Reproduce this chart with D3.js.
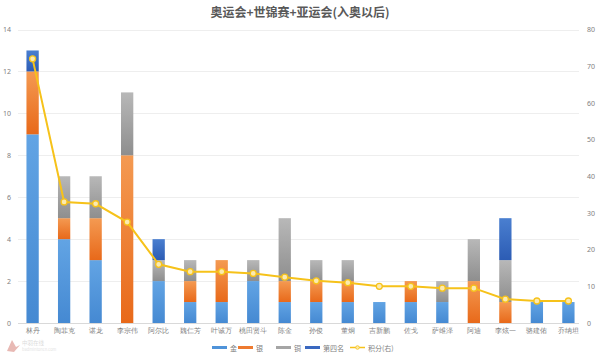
<!DOCTYPE html>
<html><head><meta charset="utf-8">
<script src="https://cdn.jsdelivr.net/npm/d3@7"></script>
<style>
body{margin:0;background:#fff;}
svg{display:block;font-family:"Noto Sans CJK SC","Noto Sans",sans-serif;}
</style></head>
<body>
<svg id="chart" width="600" height="357"></svg>
<script>
const categories = ["林丹","陶菲克","谌龙","李宗伟","阿尔比","魏仁芳","叶诚万","桃田贤斗","陈金","孙俊","董炯","吉新鹏","佐戈","萨维泽","阿迪","李炫一","骆建佑","乔纳坦"];
const gold   = [9,4,3,0,2,1,1,2,1,1,1,1,1,1,0,0,1,1];
const silver = [3,1,2,8,0,1,2,0,1,1,1,0,1,0,2,1,0,0];
const bronze = [0,2,2,3,1,1,0,1,3,1,1,0,0,1,2,2,0,0];
const fourth = [1,0,0,0,1,0,0,0,0,0,0,0,0,0,0,2,0,0];
const points = [72,33,32.5,27.5,16,14,14,13.5,12.5,11.5,11,10,10,9.5,9.5,6.5,6,6];
const seriesNames = ["金","银","铜","第四名"];
const lineName = "积分(右)";
const leftTicks = [0,2,4,6,8,10,12,14];
const rightTicks = [0,10,20,30,40,50,60,70,80];
const title = "奥运会+世锦赛+亚运会(入奥以后)";

const svg = d3.select("#chart");
const plot = {left:17, right:584, top:29.5, bottom:323};

const defs = svg.append("defs");
const grads = [
  ["gGold", "#62a4e4", "#4589d2"],
  ["gSilver", "#f49a52", "#e8691a"],
  ["gBronze", "#b8b8b8", "#8e8e8e"],
  ["gFourth", "#4a7fd0", "#2c5cb4"]
];
grads.forEach(([id,c1,c2])=>{
  const g = defs.append("linearGradient").attr("id",id).attr("x1",0).attr("y1",0).attr("x2",0).attr("y2",1);
  g.append("stop").attr("offset","0%").attr("stop-color",c1);
  g.append("stop").attr("offset","100%").attr("stop-color",c2);
});

const x = d3.scaleBand().domain(categories).range([plot.left, plot.right]).paddingInner(0.61).paddingOuter(0.3);
const yL = d3.scaleLinear().domain([0,14]).range([plot.bottom, plot.top]);
const yR = d3.scaleLinear().domain([0,80]).range([plot.bottom, plot.top]);

svg.append("text").attr("x",300).attr("y",17).attr("text-anchor","middle")
  .attr("font-size",12).attr("font-weight","bold").attr("fill","#595959").text(title);

svg.append("g").selectAll("line").data(leftTicks).join("line")
  .attr("x1",18).attr("x2",579)
  .attr("y1",d=>Math.round(yL(d))+0.5).attr("y2",d=>Math.round(yL(d))+0.5)
  .attr("stroke",d=>d===0?"#d9d9d9":"#eeeeee").attr("stroke-width",1);

const axL = d3.axisLeft(yL).tickValues(leftTicks).tickSize(0).tickPadding(0);
const gL = svg.append("g").attr("transform","translate(11,0)").call(axL);
gL.select(".domain").remove();
gL.selectAll("text").attr("font-size",7).attr("fill","#808080").attr("font-family","Noto Sans, sans-serif");

const axR = d3.axisRight(yR).tickValues(rightTicks).tickSize(0).tickPadding(0);
const gR = svg.append("g").attr("transform","translate(587,0)").call(axR);
gR.select(".domain").remove();
gR.selectAll("text").attr("font-size",7).attr("fill","#808080").attr("font-family","Noto Sans, sans-serif");

const axX = d3.axisBottom(x).tickSize(0).tickPadding(0);
const gX = svg.append("g").attr("transform",`translate(0,${plot.bottom+4})`).call(axX);
gX.select(".domain").remove();
gX.selectAll("text").attr("font-size",7).attr("fill","#7f7f7f").attr("dy","0.9em");

const rows = categories.map((c,i)=>({cat:c, g:gold[i], s:silver[i], b:bronze[i], f:fourth[i]}));
const stack = d3.stack().keys(["g","s","b","f"])(rows);
const fills = ["url(#gGold)","url(#gSilver)","url(#gBronze)","url(#gFourth)"];
svg.append("g").selectAll("g").data(stack).join("g").attr("fill",(d,i)=>fills[i])
  .selectAll("rect").data(d=>d.filter(p=>p[1]>p[0])).join("rect")
  .attr("x",d=>x(d.data.cat)).attr("width",x.bandwidth())
  .attr("y",d=>yL(d[1])).attr("height",d=>yL(d[0])-yL(d[1]));

const cx = c=>x(c)+x.bandwidth()/2;
const line = d3.line().x((d,i)=>cx(categories[i])).y(d=>yR(d));
svg.append("path").datum(points).attr("d",line).attr("fill","none")
  .attr("stroke","#f6c21a").attr("stroke-width",2);
svg.append("g").selectAll("circle").data(points).join("circle")
  .attr("cx",(d,i)=>cx(categories[i])).attr("cy",d=>yR(d)).attr("r",3)
  .attr("fill","#fbeab0").attr("stroke","#f6c21a").attr("stroke-width",1.3);

const leg = svg.append("g").attr("transform","translate(0,348)");
const legendColors = ["#4f93d9","#ee7a30","#a5a5a5","#3a68c0"];
const legX = [212, 238, 276, 305];
seriesNames.forEach((n,i)=>{
  leg.append("rect").attr("x",legX[i]).attr("y",-2).attr("width",15).attr("height",3).attr("fill",legendColors[i]);
  leg.append("text").attr("x",legX[i]+18).attr("y",2.5).attr("font-size",7).attr("fill","#7f7f7f").text(n);
});
leg.append("line").attr("x1",350).attr("x2",365).attr("y1",-0.5).attr("y2",-0.5).attr("stroke","#f6c21a").attr("stroke-width",1.5);
leg.append("circle").attr("cx",357.5).attr("cy",-0.5).attr("r",1.8).attr("fill","#fbeab0").attr("stroke","#f6c21a").attr("stroke-width",0.8);
leg.append("text").attr("x",368).attr("y",2.5).attr("font-size",7).attr("fill","#7f7f7f").text(lineName);

const wm = svg.append("g").attr("opacity",0.35);
wm.append("path").attr("d","M7,351 L12,340 L16,347 L20,345 L14,352 Z").attr("fill","#c0392b");
wm.append("text").attr("x",22).attr("y",345).attr("font-size",5.5).attr("fill","#999").text("中羽在线");
wm.append("text").attr("x",22).attr("y",351).attr("font-size",4).attr("fill","#aaa").text("badmintoncn.com");
</script>
</body></html>
